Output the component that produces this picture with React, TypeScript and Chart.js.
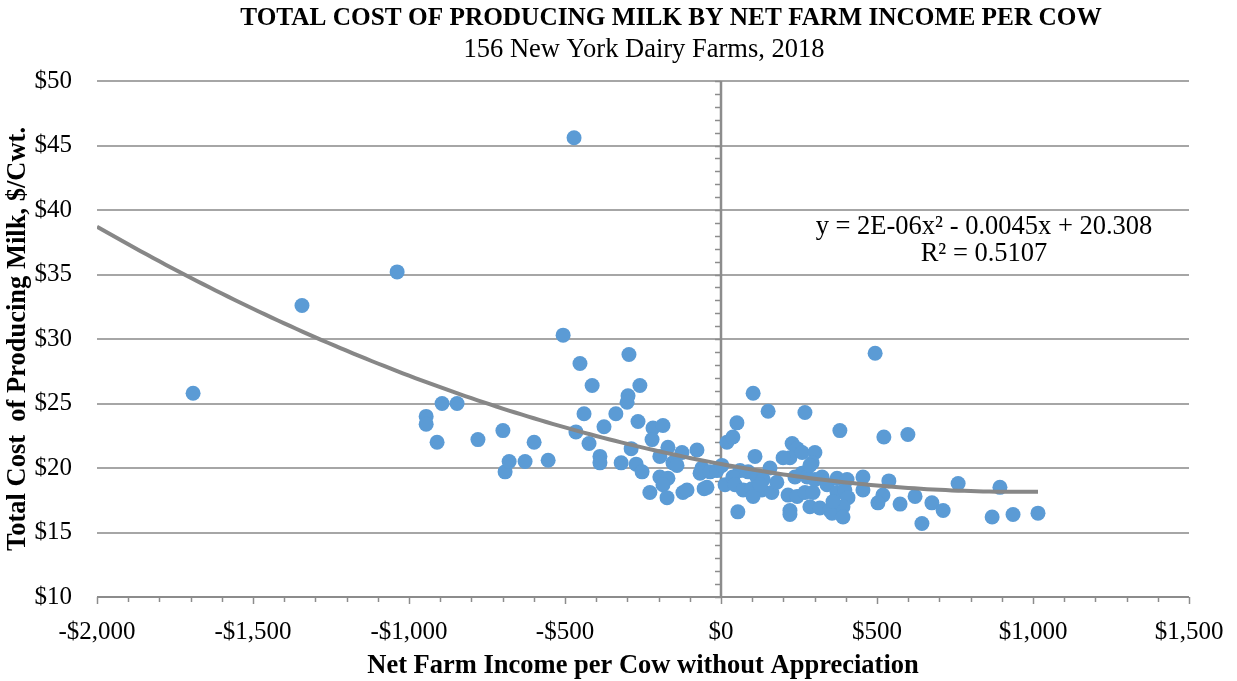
import { useEffect, useRef } from 'react';
import { Chart, registerables } from 'chart.js';

Chart.register(...registerables);

// Net farm income per cow without appreciation ($)
const netIncome: number[] = [
  -1692, -1343, -1038, -471, -945, -945, -910, -894, -846, -779,
  -699, -692, -679, -628, -599, -554, -506, -452, -465, -439,
  -413, -423, -388, -388, -375, -337, -320, -295, -298, -301,
  -260, -288, -272, -253, -266, -218, -186, -221, -170, -196,
  -125, -77, -154, -141, -61, -67, -35, -13, -196, -170,
  -186, -228, -173, -122, -109, -54, 3, 13, 19, 38,
  51, 54, 103, 151, 109, 61, 87, 115, 135, 38,
  45, 71, 99, 131, 163, 103, 157, 269, 381, 228,
  244, 221, 260, 301, 292, 199, 237, 260, 276, 215,
  244, 269, 295, 301, 324, 340, 372, 221, 221, 285,
  317, 349, 372, 356, 372, 404, 455, 455, 397, 407,
  391, 359, 391, 494, 522, 599, 538, 519, 503, 574,
  622, 676, 712, 644, 760, 894, 869, 936, 1016, -45,
  125, 179, 285,
];

// Total cost of producing milk ($/cwt.)
const totalCost: number[] = [
  25.8, 32.6, 35.2, 45.6, 24.0, 23.4, 22.0, 25.0, 25.0, 22.2,
  22.9, 19.7, 20.5, 20.5, 22.0, 20.6, 30.3, 28.1, 22.8, 24.2,
  26.4, 21.9, 20.9, 20.4, 23.2, 24.2, 20.4, 28.8, 25.6, 25.1,
  26.4, 21.5, 20.3, 19.7, 23.6, 23.1, 23.3, 22.2, 21.6, 20.9,
  21.2, 21.4, 20.4, 20.2, 20.0, 19.6, 19.7, 19.8, 19.3, 19.2,
  18.7, 18.1, 17.7, 18.1, 18.3, 18.4, 20.2, 18.7, 22.0, 22.4,
  23.5, 16.6, 25.8, 24.4, 20.9, 19.8, 19.7, 19.3, 19.1, 19.3,
  18.7, 18.3, 18.4, 18.3, 18.1, 17.8, 20.0, 24.3, 22.9, 21.9,
  21.5, 20.8, 21.2, 21.2, 20.4, 20.8, 19.3, 19.6, 19.3, 17.9,
  17.8, 18.1, 18.1, 19.1, 19.3, 18.7, 18.1, 16.7, 16.4, 17.0,
  16.9, 16.7, 17.0, 16.5, 19.2, 19.1, 19.3, 18.3, 18.3, 17.7,
  17.0, 17.4, 16.2, 28.9, 22.4, 22.6, 19.0, 17.9, 17.3, 17.2,
  17.8, 17.3, 16.7, 15.7, 18.8, 18.5, 16.2, 16.4, 16.5, 18.5,
  18.7, 18.9, 20.2,
];

// Polynomial trendline y = a·x² + b·x + c (a shown rounded as 2E-06)
const trendCoefficients: number[] = [2.35e-6, -0.0045, 20.308];
const trendStart = -2000;

const xTickValues: number[] = [-2000, -1500, -1000, -500, 0, 500, 1000, 1500];
const yTickValues: number[] = [10, 15, 20, 25, 30, 35, 40, 45, 50];

const titleText = 'TOTAL COST OF PRODUCING MILK BY NET FARM INCOME PER COW';
const subtitleText = '156 New York Dairy Farms, 2018';
const xAxisTitle = 'Net Farm Income per Cow without Appreciation';
const yAxisTitle = 'Total Cost  of Producing Milk, $/Cwt.';
const equationText = 'y = 2E-06x\u00B2 - 0.0045x + 20.308';
const rSquaredText = 'R\u00B2 = 0.5107';

const SERIF = '"Liberation Serif", "Times New Roman", serif';
const POINT_BLUE = '#5B9BD5';
const TREND_GREY = '#878787';
const GRID_GREY = '#a6a6a6';
const AXIS_GREY = '#8c8c8c';

function money(v: number): string {
  const abs = Math.abs(v).toLocaleString('en-US');
  return (v < 0 ? '-$' : '$') + abs;
}

// Axis at x = 0 with minor ticks, minor ticks along the bottom axis, titles and trend label.
const axisDecor = {
  id: 'axisDecor',
  beforeDatasetsDraw(chart: any) {
    const { ctx, chartArea, scales } = chart;
    const xs = scales.x, ys = scales.y;
    ctx.save();
    ctx.strokeStyle = AXIS_GREY;
    ctx.lineWidth = 2;
    ctx.beginPath();
    ctx.moveTo(chartArea.left, chartArea.bottom);
    ctx.lineTo(chartArea.right, chartArea.bottom);
    ctx.stroke();
    ctx.lineWidth = 1.5;
    for (let v = xs.min; v <= xs.max; v += 100) {
      const px = Math.round(xs.getPixelForValue(v)) + 0.5;
      const major = v % 500 === 0;
      ctx.beginPath();
      ctx.moveTo(px, chartArea.bottom);
      ctx.lineTo(px, chartArea.bottom + (major ? 7 : 5));
      ctx.stroke();
    }
    const x0 = xs.getPixelForValue(0);
    ctx.lineWidth = 2.5;
    ctx.beginPath();
    ctx.moveTo(x0, chartArea.top);
    ctx.lineTo(x0, chartArea.bottom);
    ctx.stroke();
    ctx.lineWidth = 1.5;
    for (let v = ys.min; v <= ys.max; v += 1) {
      const py = Math.round(ys.getPixelForValue(v)) + 0.5;
      ctx.beginPath();
      ctx.moveTo(x0 - 6, py);
      ctx.lineTo(x0, py);
      ctx.stroke();
    }
    ctx.restore();
  },
  afterDraw(chart: any) {
    const { ctx } = chart;
    ctx.save();
    ctx.fillStyle = '#000';
    ctx.textAlign = 'center';
    ctx.textBaseline = 'middle';
    ctx.font = `bold 25.3px ${SERIF}`;
    ctx.fillText(titleText, 671, 18);
    ctx.font = `26.5px ${SERIF}`;
    ctx.fillText(subtitleText, 644, 50);
    ctx.fillText(equationText, 984, 227);
    ctx.fillText(rSquaredText, 984, 254);
    ctx.restore();
  },
};

export default function App() {
  const canvasRef = useRef<HTMLCanvasElement | null>(null);

  useEffect(() => {
    const canvas = canvasRef.current;
    if (!canvas) return;

    const [a, b, c] = trendCoefficients;
    const xEnd = Math.max(...netIncome);
    const trend: { x: number; y: number }[] = [];
    for (let x = trendStart; x < xEnd; x += 20) trend.push({ x, y: a * x * x + b * x + c });
    trend.push({ x: xEnd, y: a * xEnd * xEnd + b * xEnd + c });

    const points = netIncome.map((x, i) => ({ x, y: totalCost[i] }));

    const chart = new Chart(canvas, {
      type: 'scatter',
      data: {
        datasets: [
          {
            label: 'Poly. trend',
            data: trend,
            showLine: true,
            pointRadius: 0,
            borderColor: TREND_GREY,
            borderWidth: 4,
            order: 0,
          },
          {
            label: 'Farms',
            data: points,
            pointRadius: 7.5,
            pointBackgroundColor: POINT_BLUE,
            pointBorderColor: POINT_BLUE,
            pointBorderWidth: 0,
            order: 1,
          },
        ],
      },
      options: {
        animation: false,
        responsive: false,
        maintainAspectRatio: false,
        layout: { padding: { top: 81, right: 48, left: 0, bottom: 0 } },
        plugins: {
          legend: { display: false },
          tooltip: { enabled: false },
          title: { display: false },
        },
        scales: {
          x: {
            type: 'linear',
            min: -2000,
            max: 1500,
            afterBuildTicks: (s: any) => {
              s.ticks = xTickValues.map((value) => ({ value }));
            },
            afterFit: (s: any) => {
              s.height = 84;
              s.paddingLeft = 0;
              s.paddingRight = 0;
            },
            grid: { display: false, drawTicks: false },
            border: { display: false },
            ticks: {
              padding: 20,
              color: '#000',
              font: { family: SERIF, size: 25 },
              maxRotation: 0,
              callback: (v: any) => money(Number(v)),
            },
            title: {
              display: true,
              text: xAxisTitle,
              color: '#000',
              font: { family: SERIF, size: 26.5, weight: 'bold', lineHeight: 1.15 },
              padding: { top: 0, bottom: 0 },
            },
          },
          y: {
            type: 'linear',
            min: 10,
            max: 50,
            afterBuildTicks: (s: any) => {
              s.ticks = yTickValues.map((value) => ({ value }));
            },
            afterFit: (s: any) => {
              s.width = 97;
            },
            grid: { color: GRID_GREY, lineWidth: 2, drawTicks: false },
            border: { display: false },
            ticks: {
              padding: 25,
              color: '#000',
              font: { family: SERIF, size: 25 },
              callback: (v: any) => money(Number(v)),
            },
            title: {
              display: true,
              text: yAxisTitle,
              color: '#000',
              font: { family: SERIF, size: 26.5, weight: 'bold', lineHeight: 1.15 },
              padding: { top: 3, bottom: 0 },
            },
          },
        },
      },
      plugins: [axisDecor],
    });

    return () => chart.destroy();
  }, []);

  return (
    <div style={{ position: 'fixed', left: 0, top: 0, width: 1237, height: 681, background: '#fff' }}>
      <canvas ref={canvasRef} width={1237} height={681} style={{ width: 1237, height: 681, display: 'block' }} />
    </div>
  );
}
